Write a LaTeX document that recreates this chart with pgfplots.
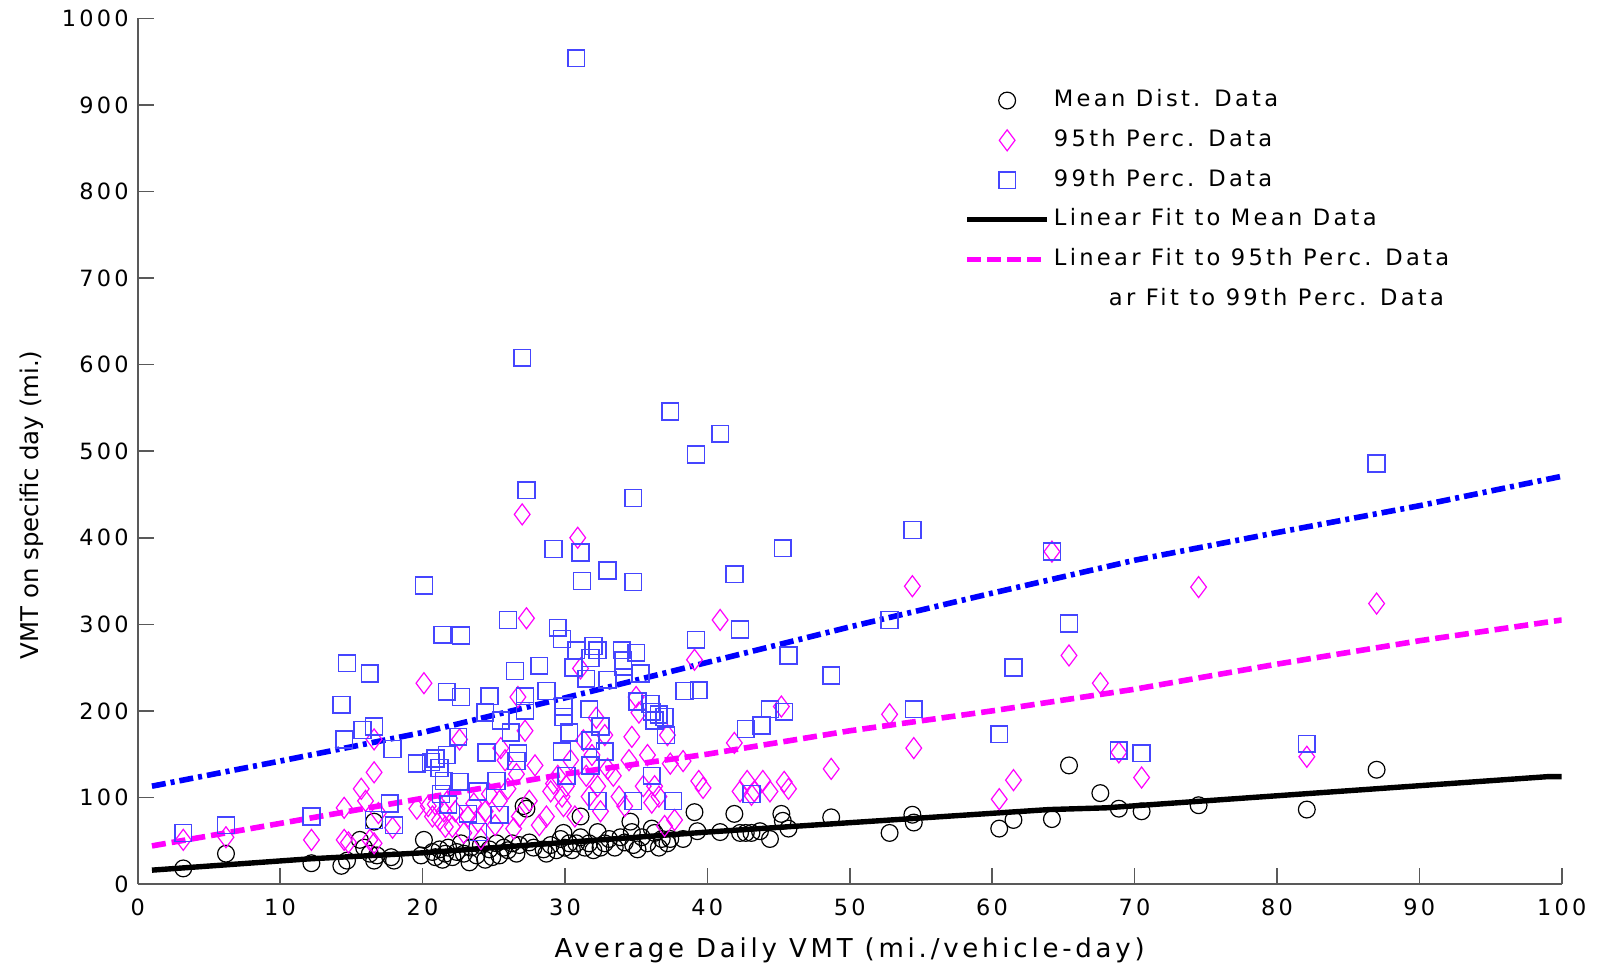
\documentclass[border=0pt]{standalone}
\usepackage{pgfplots}
\pgfplotsset{compat=1.18}
\usepackage{pgfplotstable}
\usepackage{fontspec}
\setmainfont{DejaVu Sans}[LetterSpace=14.5]
\newfontfamily\ylfont{DejaVu Sans}
\definecolor{sqblue}{rgb}{0.27,0.27,1}
\definecolor{mag}{rgb}{1,0,1}
\definecolor{fitblue}{rgb}{0,0,1}
\definecolor{axgray}{rgb}{0.35,0.35,0.35}
\pgfplotsset{
  markleg/.style={legend image code/.code={\draw[mark repeat=2,mark phase=2,##1] plot coordinates {(0pt,0pt) (20pt,0pt) (40pt,0pt)};}},
  lineleg/.style={legend image code/.code={\draw[##1] (0pt,0pt) -- (40pt,0pt);}},
}

\pgfplotstableread{
x y
3.2 18
6.2 35
12.2 24
14.3 21
14.7 27
15.6 51
15.9 42
16.3 35
16.6 27
16.6 72
16.8 33
17.8 31
18.0 27
19.9 33
20.1 51
20.7 37
20.9 31
21.2 40
21.4 28
21.6 35
21.8 42
22.1 31
22.4 37
22.7 47
22.9 35
23.3 25
23.4 42
23.8 33
24.1 45
24.4 28
24.7 40
24.9 31
25.2 47
25.4 33
25.7 42
26.0 39
26.3 47
26.6 35
26.8 45
27.1 90
27.3 87
27.5 48
27.8 42
28.5 40
28.7 35
29.0 45
29.4 39
29.7 52
29.9 59
30.0 42
30.3 47
30.5 39
30.8 47
31.1 78
31.1 54
31.4 42
31.7 47
32.0 39
32.3 60
32.5 42
32.8 47
33.1 52
33.5 42
33.9 54
34.2 48
34.6 72
34.7 60
34.8 45
35.1 40
35.4 54
35.8 47
36.1 64
36.3 59
36.6 42
36.8 52
37.2 47
37.4 52
38.3 52
39.1 83
39.3 61
40.9 60
41.9 81
42.3 59
42.7 59
43.1 59
43.7 61
44.4 52
45.2 81
45.3 73
45.7 64
48.7 77
52.8 59
54.4 80
54.5 71
60.5 64
61.5 74
64.2 75
65.4 137
67.6 105
68.9 87
70.5 84
74.5 91
82.1 86
87.0 132
}\meandata

\pgfplotstableread{
x y
3.2 51
6.2 54
12.2 51
14.5 88
14.5 51
14.8 48
15.7 110
16.0 96
16.6 129
16.3 51
16.6 47
16.6 167
16.9 82
17.9 65
19.6 87
20.1 232
20.4 90
20.7 78
20.9 92
21.2 74
21.5 84
21.6 66
21.9 99
22.1 66
22.3 84
22.6 167
22.9 59
23.2 78
23.6 93
23.9 72
24.1 52
24.4 84
24.7 104
25.1 68
25.4 96
25.5 157
25.8 143
26.0 110
26.4 64
26.6 127
26.8 78
27.0 427
27.3 307
26.7 216
27.2 177
27.5 96
27.9 137
28.2 68
28.7 78
29.0 107
29.2 116
29.5 125
29.8 101
29.9 90
30.1 113
30.4 143
30.7 78
30.9 400
31.1 249
31.3 166
31.5 125
31.7 101
31.9 149
32.2 192
32.3 113
32.5 84
32.8 172
33.0 133
33.4 125
33.8 101
34.2 90
34.5 143
34.7 170
35.0 216
35.2 198
35.5 113
35.8 149
36.1 94
36.3 113
36.6 101
37.0 67
37.2 172
37.4 139
37.7 74
38.3 142
39.1 259
39.4 119
39.7 111
40.9 305
41.9 163
42.3 107
42.8 119
43.1 103
43.3 107
43.9 119
44.4 107
45.2 205
45.4 118
45.7 110
48.7 133
52.8 196
54.4 344
54.5 157
60.5 98
61.5 120
64.2 384
65.4 264
67.6 232
68.9 152
70.5 123
74.5 343
82.1 147
87.0 324
}\pctninetyfive

\pgfplotstableread{
x y
3.2 59
6.2 68
12.2 78
14.3 207
14.7 255
14.5 167
15.8 178
16.3 243
16.6 182
16.6 74
17.7 93
17.9 156
18.0 68
20.1 345
19.6 139
20.6 141
20.9 145
21.2 134
21.4 288
21.3 104
21.5 119
21.7 222
21.7 149
21.8 92
22.7 287
22.5 170
22.7 216
22.6 118
23.2 81
23.9 107
23.9 60
24.4 198
24.5 152
24.7 217
25.2 119
25.4 80
25.5 189
26.0 305
26.2 175
26.5 246
26.6 142
26.7 151
27.0 608
27.2 217
27.3 455
27.2 200
28.2 252
28.7 223
29.2 387
29.5 296
29.8 283
29.9 205
29.9 193
29.8 153
30.1 125
30.3 175
30.8 954
30.6 250
30.8 270
31.1 383
31.2 350
31.5 237
31.7 202
31.8 166
31.8 137
31.8 261
32.0 275
32.3 270
32.3 96
32.5 182
32.8 153
33.0 362
33.0 236
34.0 270
34.1 258
34.1 251
34.8 349
34.8 446
34.8 96
35.0 267
35.1 211
35.3 243
36.0 208
36.1 199
36.1 125
36.3 189
36.6 196
37.0 193
37.1 172
37.4 546
37.6 96
38.4 223
39.2 496
39.2 282
39.4 224
40.9 520
41.9 358
42.3 294
42.7 179
43.1 104
43.8 183
44.4 202
45.3 388
45.4 199
45.7 264
48.7 241
52.8 305
54.4 409
54.5 202
60.5 173
61.5 250
64.2 384
65.4 301
68.9 154
70.5 151
82.1 162
87.0 486
}\pctninetynine

\begin{document}
\begin{tikzpicture}
\begin{axis}[
  name=main,
  scale only axis,
  width=712pt, height=432.8pt,
  xmin=0, xmax=100, ymin=0, ymax=1000,
  axis lines*=left,
  axis line style={axgray, line width=1pt},
  xtick={0,10,...,100},
  ytick={0,100,...,1000},
  tick align=inside,
  major tick length=8pt,
  tick style={axgray, line width=0.8pt},
  /pgf/number format/assume math mode=true,
  /pgf/number format/1000 sep={},
  tick label style={font=\fontsize{11.2}{13}\selectfont},
  xticklabel style={yshift=-4pt},
  yticklabel style={xshift=-1pt},
  xlabel={Average Daily VMT (mi./vehicle-day)},
  ylabel={\ylfont VMT on specific day (mi.)},
  xlabel style={font=\fontsize{13}{15}\selectfont, at={(axis description cs:0.5,-0.0765)}, anchor=center},
  ylabel style={font=\fontsize{12.2}{14}\selectfont, at={(axis description cs:-0.0744,0.438)}, anchor=center},
  legend style={draw=none, fill=none, at={(axis description cs:0.5805,0.9170)}, anchor=north west,
    inner sep=0pt, outer sep=0pt, row sep=9.5pt, column sep=2pt,
    font=\fontsize{11.3}{13.5}\selectfont,
    nodes={inner sep=0pt, text height=8.2pt, text depth=2.1pt}},
  legend cell align=left,
]
\addplot[forget plot, only marks, mark=o, mark size=4.2pt, mark options={black, line width=0.6pt}] table {\meandata};
\addplot[forget plot, only marks, mark=diamond, mark size=5.25pt, mark options={mag, line width=0.6pt}] table {\pctninetyfive};
\addplot[forget plot, only marks, mark=square, mark size=4.2pt, mark options={sqblue, line width=0.8pt}] table {\pctninetynine};

\addplot[forget plot, black, line width=2.7pt] coordinates {(1,16) (12,29) (20,36) (40,60) (64,86) (68,88) (99,124) (100,124)};
\addplot[forget plot, mag, line width=2.8pt, dash pattern=on 7pt off 3pt] coordinates {(1,44) (10,70) (20,99) (30,127) (40,150) (50,177) (60,200) (70,225) (80,254) (90,281) (100,305)};
\addplot[forget plot, fitblue, line width=2.8pt, dash pattern=on 7pt off 2.5pt on 2pt off 2.5pt] coordinates {(1,113) (10,142) (20,175) (30,215) (40,256) (50,297) (60,336) (70,374) (80,406) (90,437) (100,471)};

\addlegendimage{only marks, mark=o, mark size=4.2pt, mark options={black, line width=0.6pt}, markleg}
\addlegendentry{Mean Dist. Data}
\addlegendimage{only marks, mark=diamond, mark size=5.25pt, mark options={mag, line width=0.6pt}, markleg}
\addlegendentry{95th Perc. Data}
\addlegendimage{only marks, mark=square, mark size=4.2pt, mark options={sqblue, line width=0.8pt}, markleg}
\addlegendentry{99th Perc. Data}
\addlegendimage{black, line width=2.7pt, lineleg}
\addlegendentry{Linear Fit to Mean Data}
\addlegendimage{mag, line width=2.8pt, dash pattern=on 7pt off 3pt, lineleg}
\addlegendentry{Linear Fit to 95th Perc. Data}
\addlegendimage{empty legend}
\addlegendentry{\hspace*{27.5pt}ar Fit to 99th Perc. Data}
\end{axis}
\pgfresetboundingbox
\path (main.south west) ++(-68.85pt,-39.5pt) rectangle ([shift={(730.65pt,442pt)}]main.south west);
\end{tikzpicture}
\end{document}
